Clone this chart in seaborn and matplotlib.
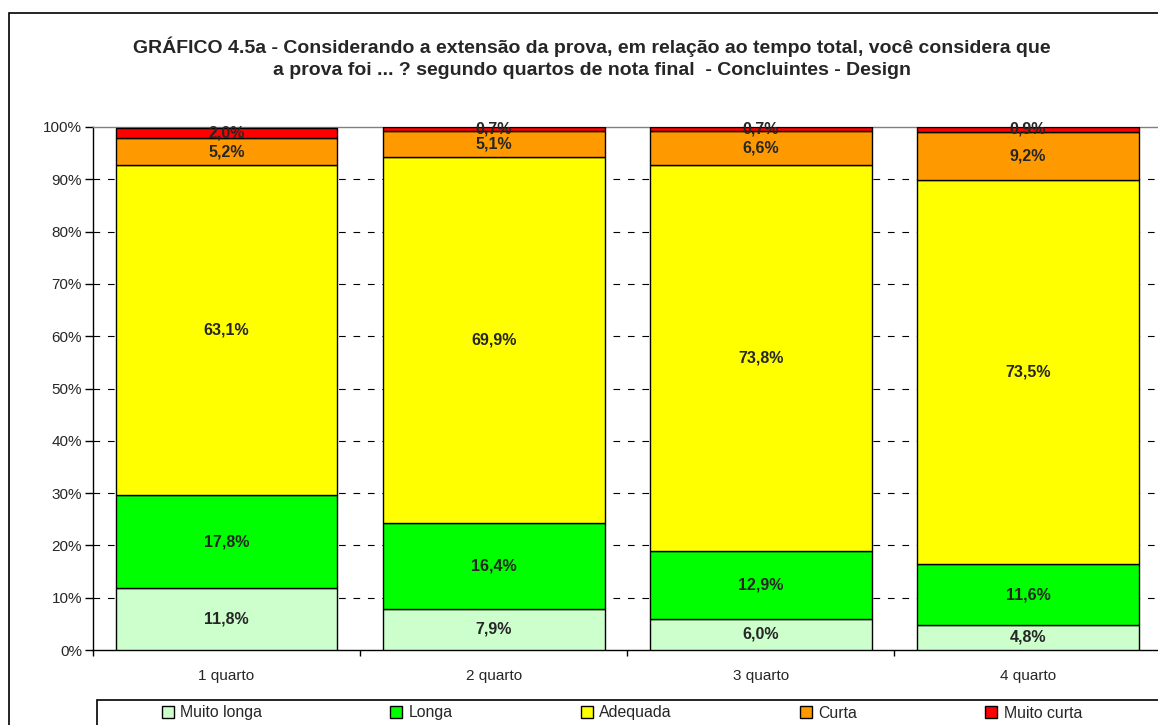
import numpy as np
import pandas as pd
import matplotlib
matplotlib.use("Agg")
import matplotlib.pyplot as plt
import seaborn as sns
from matplotlib.patches import Rectangle
from matplotlib.ticker import PercentFormatter, FixedLocator

categories = ["1 quarto", "2 quarto", "3 quarto", "4 quarto"]
series_names = ["Muito longa", "Longa", "Adequada", "Curta", "Muito curta"]
muito_longa = [11.8, 7.9, 6.0, 4.8]
longa = [17.8, 16.4, 12.9, 11.6]
adequada = [63.1, 69.9, 73.8, 73.5]
curta = [5.2, 5.1, 6.6, 9.2]
muito_curta = [2.0, 0.7, 0.7, 0.9]
colors = ["#CCFFCC", "#00FF00", "#FFFF00", "#FF9900", "#FF0000"]

title = ("GRÁFICO 4.5a - Considerando a extensão da prova, em relação ao tempo total, você considera que\n"
         "a prova foi ... ? segundo quartos de nota final  - Concluintes - Design")


def make_plot():
    sns.set_style("white")
    plt.rcParams["font.family"] = ["Liberation Sans", "DejaVu Sans"]

    fig = plt.figure(figsize=(11.58, 7.25), dpi=100)
    ax = fig.add_axes([93 / 1158, 75 / 725, (1161.5 - 93) / 1158, (650 - 127) / 725])

    data = [muito_longa, longa, adequada, curta, muito_curta]
    bottom = np.zeros(len(categories))
    for name, vals, col in zip(series_names, data, colors):
        df = pd.DataFrame({"cat": categories, "val": vals})
        sns.barplot(data=df, x="cat", y="val", bottom=bottom, color=col,
                    width=0.83, edgecolor="black", linewidth=1.0,
                    saturation=1, ax=ax, zorder=3, label=name)
        for i, v in enumerate(vals):
            ax.text(i, bottom[i] + v / 2, f"{v:.1f}%".replace(".", ","),
                    ha="center", va="center", fontsize=11.5,
                    family="Liberation Sans", weight="bold", zorder=5)
        bottom = bottom + np.array(vals)

    ax.set_xlim(-0.5, 3.5)
    ax.set_ylim(0, 100)
    ax.set_yticks(np.arange(0, 101, 10))
    ax.yaxis.set_major_formatter(PercentFormatter(decimals=0))
    for y in range(10, 100, 10):
        ax.axhline(y, color="black", linewidth=0.8, linestyle=(0, (6, 7)), zorder=1)

    ax.set_xlabel("")
    ax.set_ylabel("")
    ax.tick_params(axis="y", direction="out", length=6, width=1, color="black",
                   labelsize=11, pad=2, left=True)
    ax.xaxis.set_minor_locator(FixedLocator([-0.5, 0.5, 1.5, 2.5, 3.5]))
    ax.tick_params(axis="x", which="major", length=0, labelsize=11, pad=14)
    ax.tick_params(axis="x", which="minor", direction="out", length=4,
                   width=1, color="black", bottom=True)
    ax.grid(False)
    for s in ["left", "bottom"]:
        ax.spines[s].set_color("black")
        ax.spines[s].set_linewidth(1)
    ax.spines["top"].set_color("#808080")
    ax.spines["top"].set_linewidth(1)
    ax.spines["right"].set_visible(False)
    if ax.legend_:
        ax.legend_.remove()

    fig.text(592 / 1158, 1 - 57.5 / 725, title, ha="center", va="center",
             fontsize=14, family="Liberation Sans", weight="bold",
             linespacing=1.4)

    # outer chart frame
    fig.patches.append(Rectangle((9 / 1158, -0.1), 1.2, 1 - 13 / 725 + 0.1,
                                 transform=fig.transFigure, fill=False,
                                 edgecolor="black", linewidth=1.2))
    # legend frame
    fig.patches.append(Rectangle((97 / 1158, -0.1), 1.2, (725 - 700) / 725 + 0.1,
                                 transform=fig.transFigure, fill=False,
                                 edgecolor="black", linewidth=1.2))

    handles = [Rectangle((0, 0), 1, 1, facecolor=c, edgecolor="black", linewidth=1)
               for c in colors]
    fig.legend(handles, series_names, ncol=5, frameon=False, fontsize=11.4,
               loc="center left", bbox_to_anchor=(162 / 1158, 1 - 713 / 725),
               handlelength=0.75, handleheight=0.75, handletextpad=0.4,
               columnspacing=8.1, borderaxespad=0, borderpad=0)
    return fig


def save_plot_as(filename):
    fig = make_plot()
    fig.savefig(filename, dpi=100)
    plt.close()


if __name__ == '__main__':
    save_plot_as("out.png")
